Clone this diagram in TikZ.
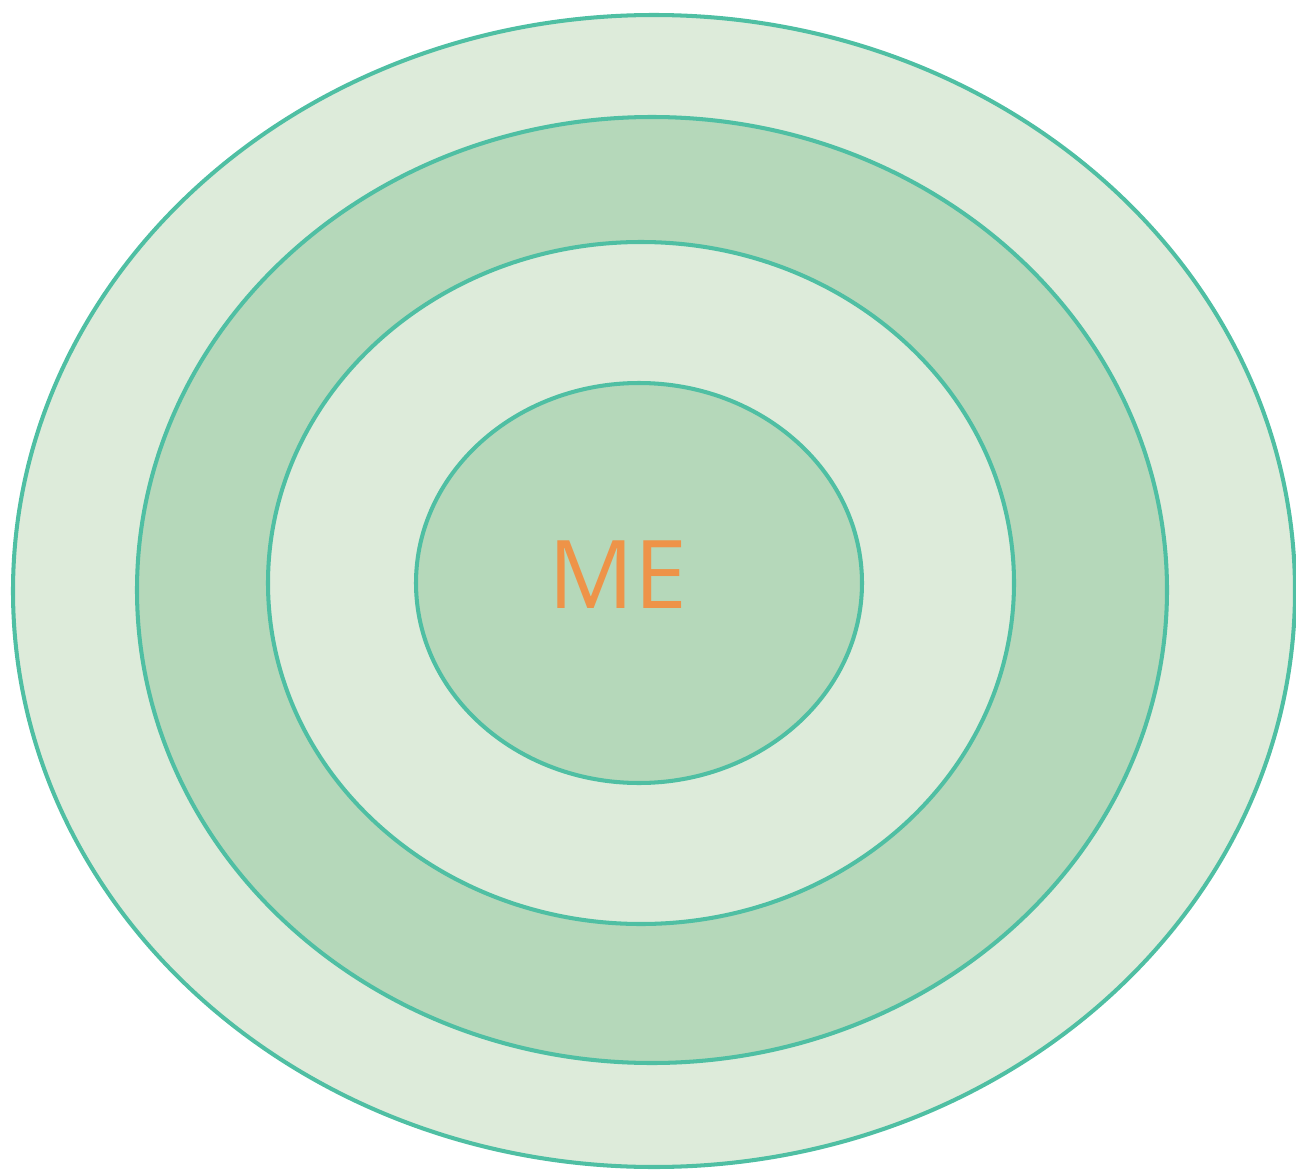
\documentclass[tikz,border=0pt]{standalone}
\usepackage{fontspec}
\usepackage{tikz}
\setsansfont{Open Sans}
\definecolor{ringline}{HTML}{4FBFA3}
\definecolor{softring}{HTML}{DDEBDA}
\definecolor{deepring}{HTML}{B5D8BA}
\definecolor{metext}{HTML}{EE9348}
\tikzset{
  ring/.style={draw=ringline,line width=2.3pt},
  lightring/.style={ring,fill=softring},
  darkring/.style={ring,fill=deepring},
  melabel/.style={font=\sffamily\fontsize{54}{60}\selectfont,text=metext,inner sep=0pt}
}

\begin{document}
\begin{tikzpicture}[x=0.02cm,y=-0.02cm]
  \useasboundingbox (0,0) rectangle (1296,1173);

  % rings, outside in
  \draw[lightring] (654,591) ellipse [x radius=641,y radius=576];
  \draw[darkring] (652,590) ellipse [x radius=515,y radius=473];
  \draw[lightring] (641,583) ellipse [x radius=373,y radius=341];
  \draw[darkring] (639,583) ellipse [x radius=223,y radius=200];

  \node[melabel] (me) at (618,575) {ME};
\end{tikzpicture}
\end{document}
